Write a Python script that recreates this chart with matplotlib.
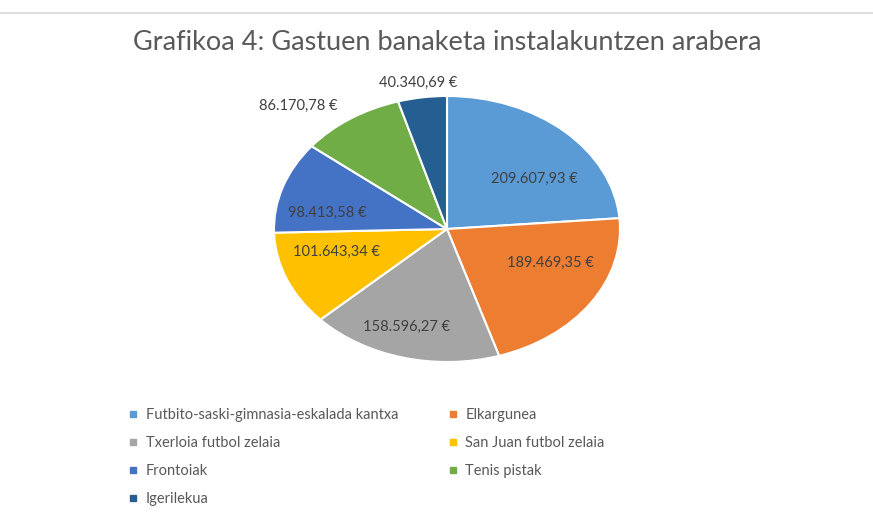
import matplotlib
matplotlib.use("Agg")
import matplotlib.pyplot as plt
from matplotlib.lines import Line2D
import numpy as np

plt.rcParams["font.family"] = ["Lato", "DejaVu Sans"]

# === Data ===
CATEGORIES = [
    "Futbito-saski-gimnasia-eskalada kantxa",
    "Elkargunea",
    "Txerloia futbol zelaia",
    "San Juan futbol zelaia",
    "Frontoiak",
    "Tenis pistak",
    "Igerilekua",
]
VALUES = [209607.93, 189469.35, 158596.27, 101643.34, 98413.58, 86170.78, 40340.69]
VALUE_LABELS = [
    "209.607,93 €", "189.469,35 €", "158.596,27 €", "101.643,34 €",
    "98.413,58 €", "86.170,78 €", "40.340,69 €",
]
COLORS = ["#5B9BD5", "#ED7D31", "#A5A5A5", "#FFC000", "#4472C4", "#70AD47", "#255E91"]

# label placement relative to slice mid-angle (Excel "best fit" look)
LABEL_R = [0.63, 0.65, 0.77, 0.66, 0.70, 1.26, 1.11]
LABEL_DANGLE = [-10.9, 10.6, -2.7, -7.1, 8.5, 8.9, 0.5]

fig = plt.figure(figsize=(8.73, 5.13), dpi=100)
W, H = 873, 513

# thin rule at the top
fig.add_artist(Line2D([0, 1], [1 - 13 / H, 1 - 13 / H], color="#D9D9D9", lw=1.2,
                      transform=fig.transFigure))

fig.text(447 / W, 1 - 43 / H, "Grafikoa 4: Gastuen banaketa instalakuntzen arabera",
         ha="center", va="center", fontsize=19.5, color="#595959")

# pie axes: ellipse spans x 274-620, y 96-362
ax = fig.add_axes([274 / W, 1 - 362 / H, 346 / W, 266 / H])
wedges, _ = ax.pie(VALUES, colors=COLORS, startangle=90, counterclock=False,
                   wedgeprops=dict(edgecolor="white", linewidth=1.5))
ax.set_aspect("auto")
ax.set_xlim(-1, 1)
ax.set_ylim(-1, 1)

for w, lab, r, da in zip(wedges, VALUE_LABELS, LABEL_R, LABEL_DANGLE):
    ang = np.deg2rad((w.theta1 + w.theta2) / 2 + da)
    ax.text(r * np.cos(ang), r * np.sin(ang), lab, ha="center", va="center",
            fontsize=10.5, color="#404040")

handles = [Line2D([], [], marker="s", linestyle="none", markersize=5,
                  markerfacecolor=c, markeredgecolor=c) for c in COLORS]
order = [0, 2, 4, 6, 1, 3, 5]
fig.legend([handles[i] for i in order], [CATEGORIES[i] for i in order],
           ncol=2, loc="upper left", bbox_to_anchor=(115 / W, 1 - 395 / H),
           frameon=False, fontsize=10.5, labelcolor="#595959",
           handlelength=0.7, handletextpad=0.5, labelspacing=0.95, columnspacing=3.4)

fig.savefig("out.png", dpi=100, facecolor="white")
